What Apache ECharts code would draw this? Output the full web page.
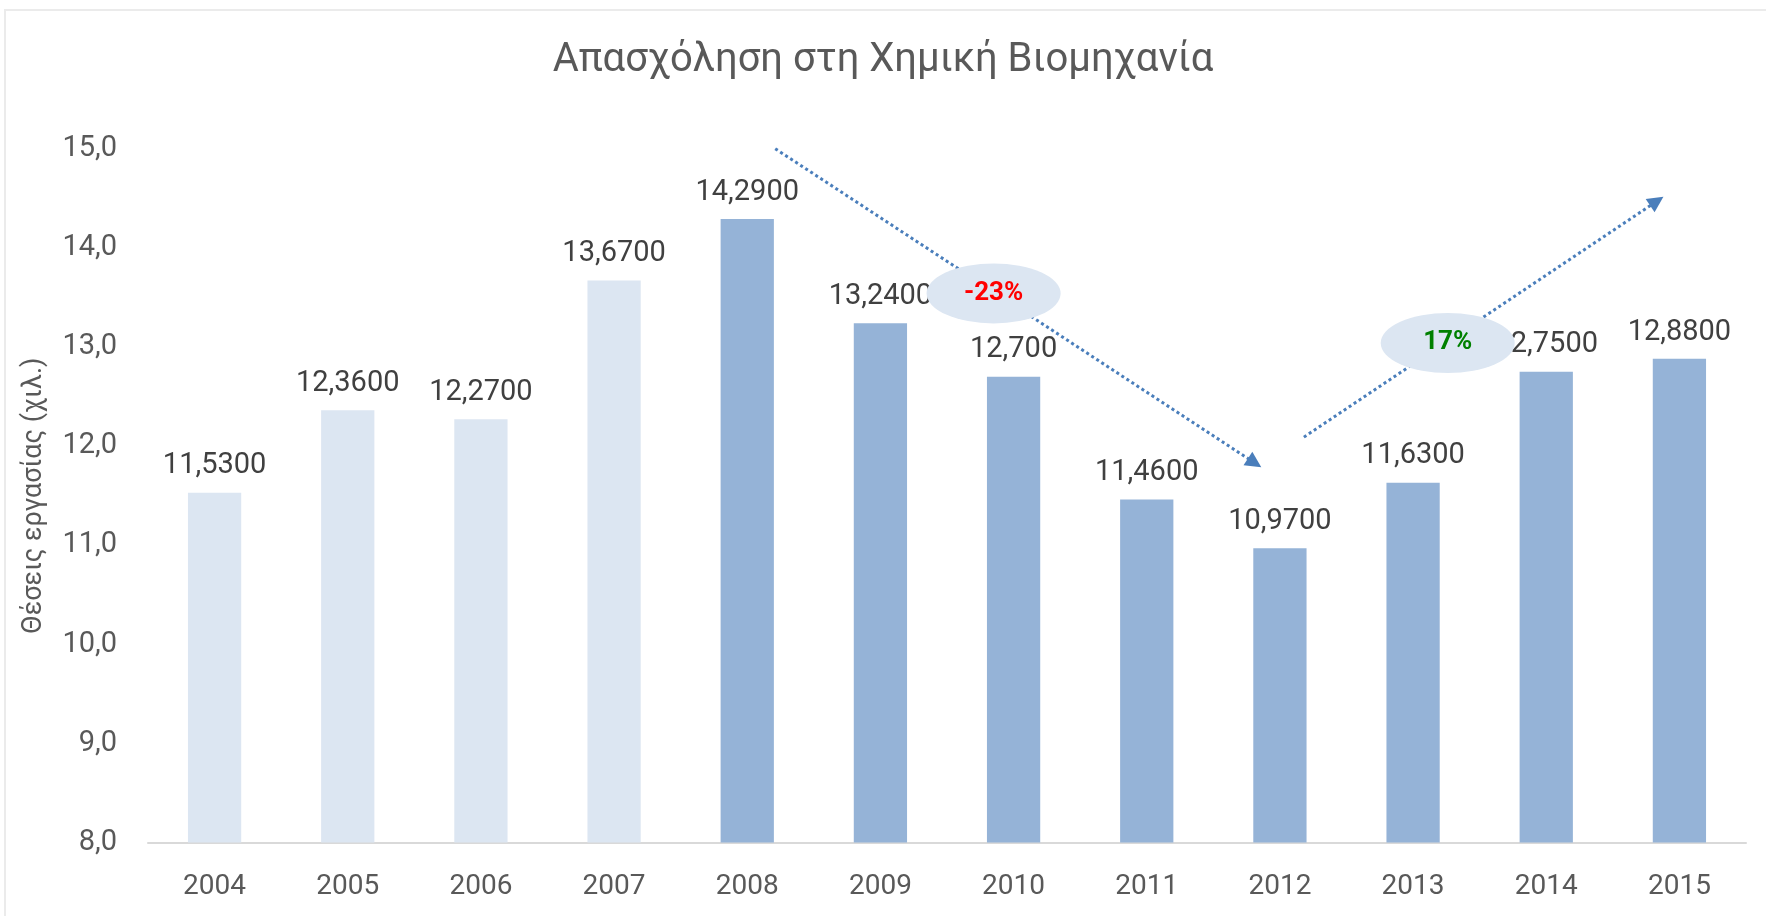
<!DOCTYPE html>
<html>
<head>
<meta charset="utf-8">
<script src="https://cdn.jsdelivr.net/npm/echarts@6/dist/echarts.min.js"></script>
<style>
  html, body { margin: 0; padding: 0; background: #fff; }
  #chart { width: 1766px; height: 916px; }
</style>
</head>
<body>
<div id="chart"></div>
<script>
// data
var years = ['2004', '2005', '2006', '2007', '2008', '2009', '2010', '2011', '2012', '2013', '2014', '2015'];
var jobs = [11.53, 12.36, 12.27, 13.67, 14.29, 13.24, 12.70, 11.46, 10.97, 11.63, 12.75, 12.88];
var jobLabels = ['11,5300', '12,3600', '12,2700', '13,6700', '14,2900', '13,2400', '12,700', '11,4600', '10,9700', '11,6300', '12,7500', '12,8800'];
var yTicks = [8, 9, 10, 11, 12, 13, 14, 15];

// trend notes: text + arrow (x in category index units, y in axis units)
var trendText = ['-23%', '17%'];
var trendColor = ['#FF0000', '#008000'];
var trendBubble = [[5.85, 13.54], [9.26, 13.04]];
var trendArrow = [
  [[4.21, 15.0], [7.81, 11.83]],
  [[8.18, 12.09], [10.83, 14.47]]
];

var FONT = 'Roboto';
var LIGHT = '#DCE6F2';
var DARK = '#95B3D7';

var myChart = echarts.init(document.getElementById('chart'));

var option = {
  animation: false,
  backgroundColor: '#fff',
  textStyle: { fontFamily: FONT },
  title: {
    text: 'Απασχόληση στη Χημική Βιομηχανία',
    left: 'center',
    top: 36,
    textStyle: { fontFamily: FONT, fontSize: 40, fontWeight: 'normal', color: '#595959' }
  },
  graphic: [{
    type: 'rect',
    shape: { x: 5, y: 10, width: 1800, height: 1000 },
    style: { fill: 'none', stroke: '#EBEBEB', lineWidth: 2 },
    silent: true,
    z: -10
  }],
  grid: { left: 148, right: 20, top: 148.7, bottom: 73.5 },
  xAxis: [{
    type: 'category',
    data: years,
    axisLine: { lineStyle: { color: '#D9D9D9', width: 2 } },
    axisTick: { show: false },
    axisLabel: { fontFamily: FONT, fontSize: 28, color: '#595959', margin: 30 }
  }, {
    type: 'value',
    min: -0.5,
    max: years.length - 0.5,
    show: false
  }],
  yAxis: {
    type: 'value',
    min: yTicks[0],
    max: yTicks[yTicks.length - 1],
    interval: 1,
    splitLine: { show: false },
    axisLine: { show: false },
    axisTick: { show: false },
    axisLabel: {
      fontFamily: FONT, fontSize: 29, color: '#595959', margin: 31,
      formatter: function (v) { return v.toFixed(1).replace('.', ','); }
    },
    name: 'Θέσεις εργασίας (χιλ.)',
    nameLocation: 'middle',
    nameRotate: 90,
    nameGap: 100,
    nameTextStyle: { fontFamily: FONT, fontSize: 27, color: '#595959' }
  },
  series: [{
    type: 'bar',
    data: jobs,
    barWidth: '40%',
    z: 2,
    itemStyle: {
      color: function (p) { return p.dataIndex < 4 ? LIGHT : DARK; }
    },
    label: {
      show: true,
      position: 'top',
      distance: 12,
      fontFamily: FONT,
      fontSize: 29,
      color: '#404040',
      formatter: function (p) { return jobLabels[p.dataIndex]; }
    }
  }, {
    type: 'line',
    xAxisIndex: 1,
    data: [],
    z: 5,
    silent: true,
    markLine: {
      silent: true,
      symbol: ['none', 'triangle'],
      symbolSize: 16,
      label: { show: false },
      lineStyle: { color: '#4A7EBB', width: 3, type: 'dotted' },
      data: trendArrow.map(function (a) {
        return [{ coord: a[0] }, { coord: a[1] }];
      })
    }
  }, {
    type: 'scatter',
    xAxisIndex: 1,
    z: 10,
    silent: true,
    symbol: 'circle',
    symbolSize: [134, 60],
    itemStyle: { color: LIGHT, opacity: 1 },
    data: trendBubble.map(function (b, i) {
      return {
        value: b,
        label: {
          show: true,
          position: 'inside',
          formatter: trendText[i],
          fontFamily: FONT,
          fontSize: 26,
          fontWeight: 'bold',
          color: trendColor[i]
        }
      };
    })
  }]
};

myChart.setOption(option);
</script>
</body>
</html>
